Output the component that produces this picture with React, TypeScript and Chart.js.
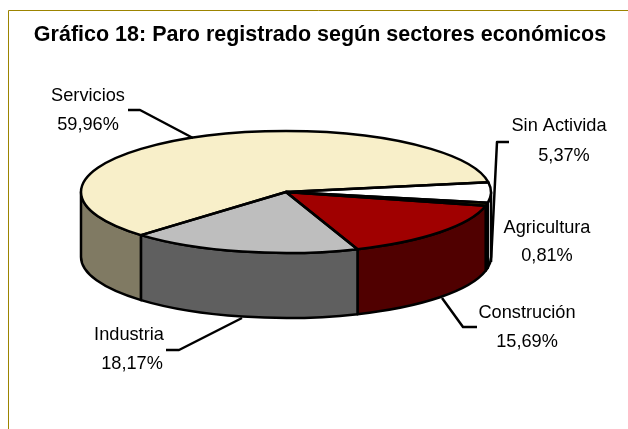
import React, { useEffect, useRef } from "react";
import { Chart, registerables } from "chart.js";

Chart.register(...registerables);

const categories = ["Servicios", "Sin Activida", "Agricultura", "Construción", "Industria"];
const shares = [59.96, 5.37, 0.81, 15.69, 18.17];
const topColors = ["#F8EFC9", "#FFFFFF", "#808000", "#A00000", "#BEBEBE"];
const wallColors = ["#807A63", "#FFFFFF", "#404000", "#500000", "#5F5F5F"];
const titleText = "Gráfico 18: Paro registrado según sectores económicos";

const CX = 286, CY = 192, RX = 205, RY = 61, DEPTH = 65;
const FONT = '"Liberation Sans", Arial, sans-serif';

// label centre positions: [x, line 1 y, x2, line 2 y]
const labelPos = [
  [88, 96, 88, 125],
  [559, 126, 564, 156],
  [547, 228, 547, 256],
  [527, 313, 527, 342],
  [129, 335, 132, 364],
];
const leaders: number[][][] = [
  [[128, 110], [140, 110], [193, 138]],
  [[509, 142], [497, 142], [491, 262]],
  [],
  [[442, 298], [463, 327], [477, 327]],
  [[242, 318], [179, 350], [166, 350]],
];

const pie3d = {
  id: "pie3d",
  beforeDraw(chart: any) {
    const { ctx, width, height } = chart;
    ctx.save();
    ctx.fillStyle = "#FFFFFF";
    ctx.fillRect(0, 0, width, height);
    ctx.strokeStyle = "#9C8400";
    ctx.lineWidth = 1;
    ctx.beginPath();
    ctx.moveTo(8.5, height);
    ctx.lineTo(8.5, 10.5);
    ctx.lineTo(width, 10.5);
    ctx.stroke();
    ctx.restore();
  },
  beforeDatasetsDraw(chart: any) {
    const { ctx } = chart;
    const arcs = chart.getDatasetMeta(0).data;
    ctx.save();
    ctx.lineWidth = 2.5;
    ctx.strokeStyle = "#000000";
    ctx.lineJoin = "round";
    arcs.forEach((arc: any, i: number) => {
      const { startAngle, endAngle } = arc.getProps(["startAngle", "endAngle"]);
      [0, 2 * Math.PI].forEach((off) => {
        const a = Math.max(startAngle, off);
        const b = Math.min(endAngle, off + Math.PI);
        if (b <= a) return;
        ctx.beginPath();
        ctx.ellipse(CX, CY, RX, RY, 0, a, b);
        ctx.lineTo(CX + RX * Math.cos(b), CY + DEPTH + RY * Math.sin(b));
        ctx.ellipse(CX, CY + DEPTH, RX, RY, 0, b, a, true);
        ctx.closePath();
        ctx.fillStyle = wallColors[i];
        ctx.fill();
        ctx.stroke();
      });
    });
    ctx.restore();
    // squash the library's round pie into the tilted top face
    const first = arcs[0];
    const { x, y, outerRadius } = first.getProps(["x", "y", "outerRadius"]);
    ctx.save();
    ctx.translate(CX, CY);
    ctx.scale(RX / outerRadius, RY / outerRadius);
    ctx.translate(-x, -y);
  },
  afterDatasetsDraw(chart: any) {
    const { ctx } = chart;
    ctx.restore();
    const arcs = chart.getDatasetMeta(0).data;
    ctx.save();
    ctx.lineWidth = 2.5;
    ctx.strokeStyle = "#000000";
    ctx.lineJoin = "round";
    arcs.forEach((arc: any) => {
      const { startAngle, endAngle } = arc.getProps(["startAngle", "endAngle"]);
      ctx.beginPath();
      ctx.moveTo(CX, CY);
      ctx.ellipse(CX, CY, RX, RY, 0, startAngle, endAngle);
      ctx.closePath();
      ctx.stroke();
    });
    leaders.forEach((pts) => {
      if (!pts.length) return;
      ctx.beginPath();
      pts.forEach(([px, py], k) => (k ? ctx.lineTo(px, py) : ctx.moveTo(px, py)));
      ctx.stroke();
    });
    ctx.fillStyle = "#000000";
    ctx.font = `18.2px ${FONT}`;
    ctx.textAlign = "center";
    ctx.textBaseline = "middle";
    categories.forEach((name, i) => {
      const [x1, y1, x2, y2] = labelPos[i];
      ctx.fillText(name, x1, y1);
      ctx.fillText(shares[i].toFixed(2).replace(".", ",") + "%", x2, y2);
    });
    ctx.restore();
  },
};

export default function App() {
  const ref = useRef<HTMLCanvasElement>(null);
  useEffect(() => {
    const chart = new Chart(ref.current as HTMLCanvasElement, {
      type: "pie",
      data: {
        labels: categories,
        datasets: [
          {
            data: shares,
            backgroundColor: topColors,
            borderWidth: 0,
            clip: false,
          } as any,
        ],
      },
      options: {
        responsive: false,
        animation: false,
        rotation: 225,
        layout: { padding: { left: 12, right: 0, top: 22, bottom: 0 } },
        plugins: {
          legend: { display: false },
          tooltip: { enabled: false },
          title: {
            display: true,
            fullSize: false,
            text: titleText,
            color: "#000000",
            font: { family: FONT, size: 21.5, weight: "bold" },
            padding: { top: 0, bottom: 10 },
          },
        },
      },
      plugins: [pie3d],
    } as any);
    return () => chart.destroy();
  }, []);
  return (
    <canvas
      ref={ref}
      width={628}
      height={429}
      style={{ position: "fixed", left: 0, top: 0, width: 628, height: 429, display: "block" }}
    />
  );
}
